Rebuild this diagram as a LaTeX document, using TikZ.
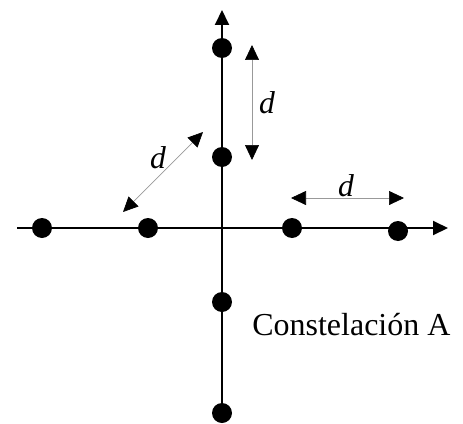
\documentclass[tikz,border=0pt]{standalone}
\usepackage{fontspec}
\setmainfont{Liberation Serif}
\usetikzlibrary{arrows.meta}

\begin{document}
\begin{tikzpicture}[x=0.02cm, y=-0.02cm,
  dot/.style={circle, fill=black, inner sep=0pt, minimum size=0.4cm},
  axis/.style={line width=1.1pt, -{Triangle[length=0.3cm, width=0.28cm]}},
  dim/.style={draw=gray!80, line width=0.4pt, {Triangle[length=0.3cm, width=0.28cm, color=black]}-{Triangle[length=0.3cm, width=0.28cm, color=black]}},
  lbl/.style={font=\fontsize{18}{22}\selectfont\itshape, inner sep=0pt}
]
  \useasboundingbox (0,0) rectangle (463,423);

  % axes
  \coordinate (xl) at (17,228);
  \coordinate (xr) at (448,228);
  \coordinate (yb) at (222,413);
  \coordinate (yt) at (222,10);
  \draw[axis] (xl) -- (xr);
  \draw[axis] (yb) -- (yt);

  % constellation points
  \node[dot] (v1) at (222,48) {};
  \node[dot] (v2) at (222,157) {};
  \node[dot] (v3) at (222,302) {};
  \node[dot] (v4) at (222,413) {};
  \node[dot] (h1) at (42,228) {};
  \node[dot] (h2) at (148,228) {};
  \node[dot] (h3) at (292,228) {};
  \node[dot] (h4) at (398,231) {};

  % distances
  \coordinate (va) at (252,45);
  \coordinate (vb) at (252,160);
  \coordinate (da) at (123,212);
  \coordinate (db) at (203,132);
  \coordinate (ha) at (291,198);
  \coordinate (hb) at (404,198);
  \draw[dim] (va) -- (vb);
  \draw[dim] (da) -- (db);
  \draw[dim] (ha) -- (hb);
  \node[lbl] (dv) at (267,103) {d};
  \node[lbl] (dd) at (158,158) {d};
  \node[lbl] (dh) at (346,186) {d};

  \node[font=\fontsize{18.2}{22}\selectfont, anchor=west, inner sep=0pt] (name) at (252,325) {Constelación A};
\end{tikzpicture}
\end{document}
